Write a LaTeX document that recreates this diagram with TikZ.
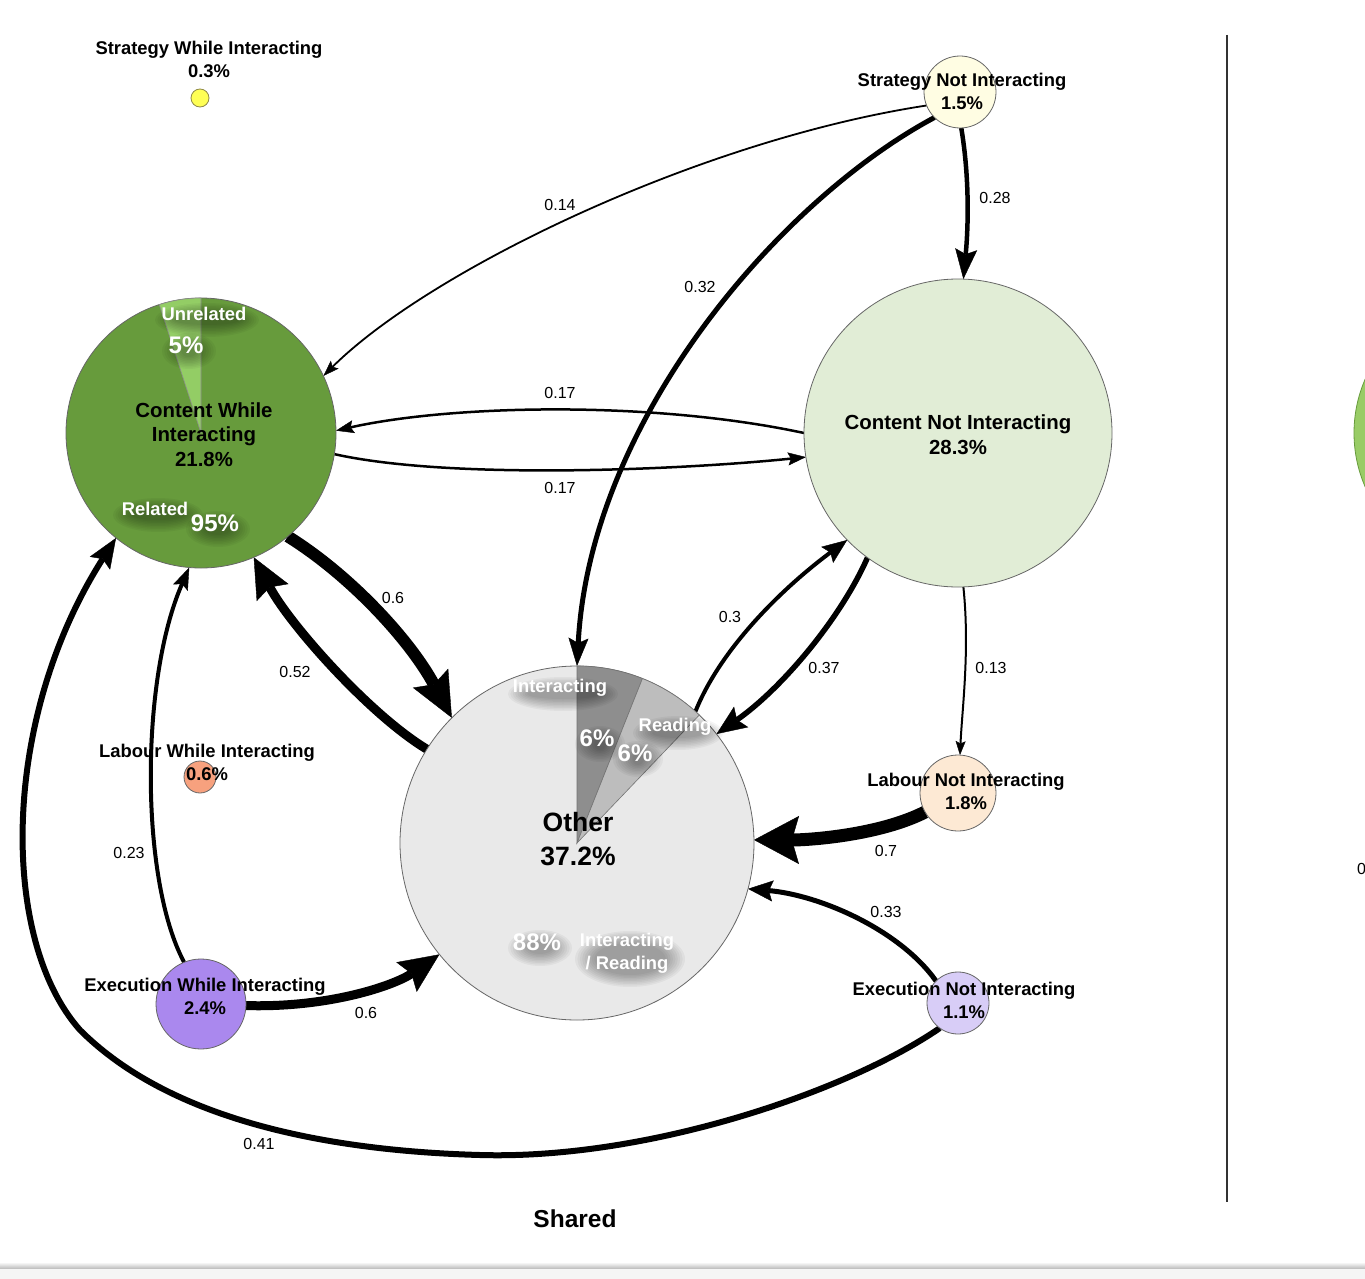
\documentclass[tikz,border=0pt]{standalone}
\usepackage{fontspec}
\setmainfont{Liberation Sans}
\usetikzlibrary{arrows.meta}
\pgfdeclarelayer{back}
\pgfdeclarelayer{edges}
\pgfsetlayers{back,edges,main}
\definecolor{cwiG}{HTML}{679B3C}
\definecolor{unrG}{HTML}{93CD65}
\definecolor{cniC}{HTML}{E1EDD6}
\definecolor{sniC}{HTML}{FFFDE3}
\definecolor{swiY}{HTML}{FFFF55}
\definecolor{lwiC}{HTML}{F7A17E}
\definecolor{lniC}{HTML}{FDE9D4}
\definecolor{ewiC}{HTML}{AA88EE}
\definecolor{eniC}{HTML}{D8CDF7}
\definecolor{othC}{HTML}{E9E9E9}
\definecolor{othD}{HTML}{8E8E8E}
\definecolor{othM}{HTML}{BDBDBD}
\definecolor{nextG}{HTML}{99CC66}
\tikzset{
  st/.style={circle, inner sep=0pt, outer sep=0pt, draw=black!60, line width=0.8pt},
  lbl/.style={font=\bfseries\fontsize{18.4}{23}\selectfont, align=center, inner sep=0pt},
  biglbl/.style={font=\bfseries\fontsize{20.4}{24.5}\selectfont, align=center, inner sep=0pt},
  hugelbl/.style={font=\bfseries\fontsize{26.5}{34}\selectfont, align=center, inner sep=0pt},
  elab/.style={font=\fontsize{16}{18}\selectfont, inner sep=0pt},
  wS/.style={font=\bfseries\fontsize{18.4}{23}\selectfont, align=center, inner sep=0pt, text=white},
  wB/.style={font=\bfseries\fontsize{24}{26}\selectfont, align=center, inner sep=0pt, text=white},
  ed/.style n args={4}{draw=black, line width=#1,
     -{Stealth[length=#2, width=#3, inset=#4, line width=0.4pt]}}
}
% soft dark halo behind white pie labels: centre, x radius, y radius
\newcommand\halo[3]{%
  \foreach \k in {0,...,8}{%
    \fill[black, opacity=0.04] #1 ellipse[x radius={#2-\k*2.4}, y radius={#3-\k*1.5}];}}
\begin{document}
\begin{tikzpicture}[x=1pt,y=-1pt]
\useasboundingbox (0,0) rectangle (1365,1279);
\begin{pgfonlayer}{back}
  \fill[white] (0,0) rectangle (1365,1279);
  \shade[top color=white, bottom color=black!28] (0,1262) rectangle (1365,1269);
  \fill[black!4] (0,1269) rectangle (1365,1279);
  \draw[black!80, line width=1.2pt] (1227,35) -- (1227,1202);
\end{pgfonlayer}

% partial circle of the next panel
\node[st, fill=nextG, draw=cwiG, minimum size=270pt] (nxt) at (1489,433) {};
\node[elab, anchor=west] (nxtl) at (1357,869) {0};

% states
\node[st, fill=swiY, draw=black!50!yellow, minimum size=18pt] (swi) at (200,98) {};
\node[st, fill=sniC, minimum size=72pt] (sni) at (960,92) {};
\node[st, fill=cwiG, minimum size=270pt] (cwi) at (201,433) {};
\node[st, fill=cniC, minimum size=308pt] (cni) at (958,433) {};
\node[st, fill=othC, minimum size=354pt] (oth) at (577,843) {};
\node[st, fill=lwiC, minimum size=32pt] (lwi) at (200,777) {};
\node[st, fill=lniC, minimum size=76pt] (lni) at (958,793) {};
\node[st, fill=ewiC, minimum size=90pt] (ewi) at (201,1004) {};
\node[st, fill=eniC, minimum size=62pt] (eni) at (958,1003) {};

% pie slices
\begin{scope}[shift={(cwi.center)}, yscale=-1]
  \filldraw[fill=unrG, draw=black!45, line width=0.6pt]
    (0,0) -- (90:135) arc[start angle=90, end angle=108, radius=135] -- cycle;
\end{scope}
\begin{scope}[shift={(oth.center)}, yscale=-1]
  \filldraw[fill=othD, draw=black!55, line width=0.6pt]
    (0,0) -- (90:177) arc[start angle=90, end angle=68.3, radius=177] -- cycle;
  \filldraw[fill=othM, draw=black!55, line width=0.6pt]
    (0,0) -- (68.3:177) arc[start angle=68.3, end angle=46.3, radius=177] -- cycle;
\end{scope}

% transitions
\begin{pgfonlayer}{edges}
\path[ed={1.8pt}{16pt}{11pt}{3pt}] (sni.202) .. controls (700,140) and (430,270) .. (cwi.25);
\path[ed={5pt}{28pt}{20pt}{5pt}] (sni.225) .. controls (780,200) and (590,420) .. (oth.90);
\path[ed={4.5pt}{30pt}{22pt}{5pt}] (sni.272) .. controls (970,180) and (968,230) .. (cni.88);
\path[ed={2.5pt}{18pt}{13pt}{3pt}] (cni.180) .. controls (650,400) and (450,405) .. (cwi.1);
\path[ed={2.5pt}{18pt}{13pt}{3pt}] (cwi.-9) .. controls (450,480) and (680,470) .. (cni.189);
\path[ed={12pt}{45pt}{40pt}{7pt}] (cwi.-50) .. controls (350,575) and (410,640) .. (oth.135);
\path[ed={9pt}{40pt}{36pt}{6pt}] (oth.148) .. controls (370,715) and (290,625) .. (cwi.-67);
\path[ed={4pt}{25pt}{20pt}{4pt}] (oth.48) .. controls (720,650) and (780,590) .. (cni.224);
\path[ed={5.5pt}{30pt}{25pt}{5pt}] (cni.234) .. controls (840,620) and (780,690) .. (oth.38);
\path[ed={2pt}{14pt}{10pt}{2.5pt}] (cni.272) .. controls (970,650) and (962,710) .. (lni.87);
\path[ed={13pt}{45pt}{48pt}{7pt}] (lni.210) .. controls (880,835) and (810,840) .. (oth.1);
\path[ed={5pt}{25pt}{21pt}{4pt}] (eni.135) .. controls (900,930) and (820,895) .. (oth.-15);
\path[ed={9pt}{40pt}{36pt}{6pt}] (ewi.-2) .. controls (330,1008) and (395,985) .. (oth.219);
\path[ed={4pt}{22pt}{16pt}{4pt}] (ewi.112) .. controls (140,880) and (140,680) .. (cwi.265);
\path[ed={6pt}{30pt}{24pt}{5pt}] (eni.234) .. controls (850,1090) and (650,1160) .. (480,1155)
   .. controls (300,1150) and (160,1110) .. (80,1030)
   .. controls (0,940) and (0,720) .. (cwi.231);
\end{pgfonlayer}

% edge labels
\node[elab] (l1) at (560,205) {0.14};
\node[elab] (l2) at (700,287) {0.32};
\node[elab] (l3) at (995,198) {0.28};
\node[elab] (l4) at (560,393) {0.17};
\node[elab] (l5) at (560,488) {0.17};
\node[elab] (l6) at (393,598) {0.6};
\node[elab] (l7) at (295,672) {0.52};
\node[elab] (l8) at (730,617) {0.3};
\node[elab] (l9) at (824,668) {0.37};
\node[elab] (l10) at (991,668) {0.13};
\node[elab] (l11) at (886,851) {0.7};
\node[elab] (l12) at (886,912) {0.33};
\node[elab] (l13) at (366,1013) {0.6};
\node[elab] (l14) at (129,853) {0.23};
\node[elab] (l15) at (259,1144) {0.41};

% soft shadows of the pie labels
\halo{(207,320)}{52}{17}
\halo{(189,351)}{27}{18}
\halo{(158,515)}{45}{17}
\halo{(218,529)}{32}{18}
\halo{(563,694)}{55}{17}
\halo{(600,744)}{25}{18}
\halo{(678,733)}{45}{17}
\halo{(638,759)}{25}{18}
\halo{(540,948)}{32}{18}
\halo{(630,959)}{55}{28}

% pie inner labels
\node[wS] (pu) at (204,314) {Unrelated};
\node[wB] (pu5) at (186,345) {5\%};
\node[wS] (pr) at (155,509) {Related};
\node[wB] (pr95) at (215,523) {95\%};
\node[wS] (oi) at (560,688) {Interacting};
\node[wB] (oi6) at (597,738) {6\%};
\node[wS] (orr) at (675,727) {Reading};
\node[wB] (or6) at (635,753) {6\%};
\node[wB] (o88) at (537,942) {88\%};
\node[wS] (oir) at (627,953.5) {Interacting\\/ Reading};

% state labels
\node[lbl] (swil) at (209,59) {Strategy While Interacting\\0.3\%};
\node[lbl] (snil) at (962,91.5) {Strategy Not Interacting\\1.5\%};
\node[biglbl] (cwil) at (204,434.5) {Content While\\Interacting\\21.8\%};
\node[biglbl] (cnil) at (958,434.5) {Content Not Interacting\\28.3\%};
\node[hugelbl] (othl) at (578,839) {Other\\37.2\%};
\node[lbl] (lwil) at (207,762.5) {Labour While Interacting\\0.6\%};
\node[lbl] (lnil) at (966,791.5) {Labour Not Interacting\\1.8\%};
\node[lbl] (ewil) at (205,996.5) {Execution While Interacting\\2.4\%};
\node[lbl] (enil) at (964,1000.5) {Execution Not Interacting\\1.1\%};

\node[font=\bfseries\fontsize{24.5}{28}\selectfont, inner sep=0pt] (title) at (575,1219) {Shared};
\end{tikzpicture}
\end{document}
